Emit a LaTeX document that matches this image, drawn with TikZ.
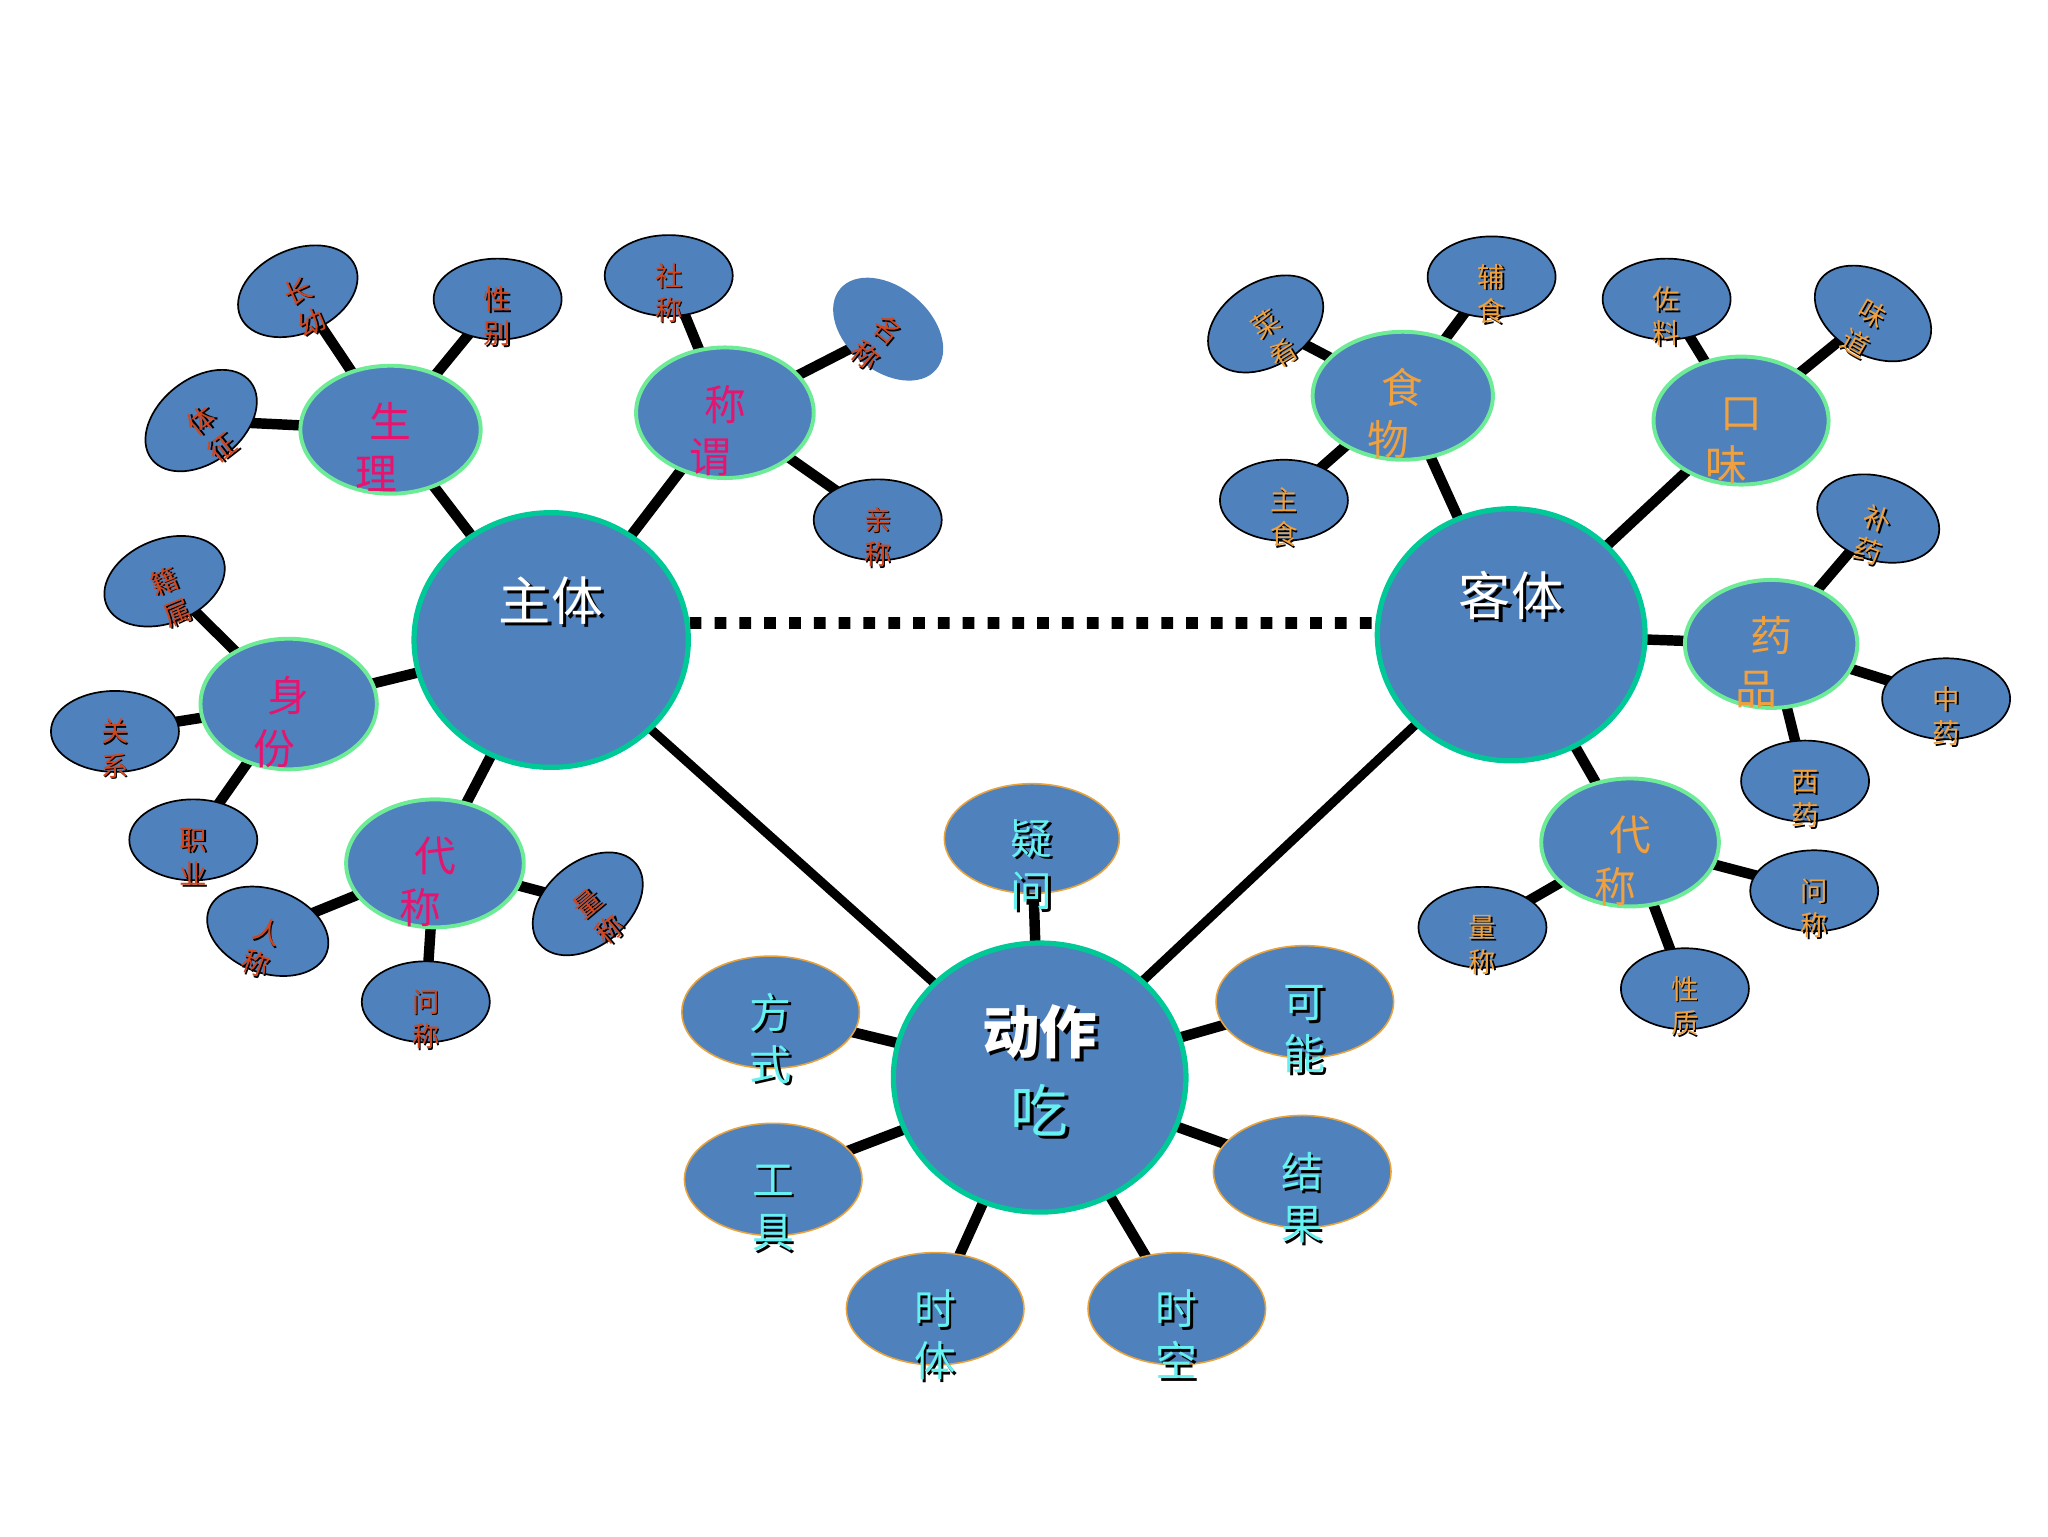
\documentclass[tikz,border=0pt]{standalone}
\usepackage{fontspec}
\setmainfont{Noto Sans CJK SC}
\usepackage{xcolor}
\usepackage{tikz}
\usetikzlibrary{shapes.geometric,backgrounds}
\definecolor{Bubble}{HTML}{4F81BD}
\definecolor{HubRim}{HTML}{00C896}
\definecolor{TopicRim}{HTML}{6EEB96}
\definecolor{ActRim}{HTML}{E8A33D}
\definecolor{TopicPink}{HTML}{E6146E}
\definecolor{LeafRed}{HTML}{D2461E}
\definecolor{LeafOrange}{HTML}{F0A03C}
\definecolor{ActCyan}{HTML}{66F0F0}

\newcommand{\shd}[1]{\rlap{\kern0.06em\raisebox{-0.06em}{\color{black}#1}}#1}
\newcommand{\lift}[2]{\smash{\makebox[0pt]{\raisebox{#1}{#2}}}}
\newcommand{\pair}[2]{\lift{-0.38em}{\shd{#1}}\lift{-1.63em}{\shd{#2}}}
\newcommand{\ttl}[2]{\lift{-0.19em}{#1}\lift{-1.44em}{\kern-0.7em#2}}

\begin{document}
\begin{tikzpicture}[x=1pt, y=-1pt,
  bub/.style={ellipse, fill=Bubble, inner sep=0pt},
  hub/.style={bub, draw=HubRim, line width=4pt, text=white, font=\fontsize{40}{48}\selectfont},
  topic/.style={bub, draw=TopicRim, line width=3pt, minimum width=136pt, minimum height=98pt, font=\fontsize{32}{40}\selectfont},
  topicL/.style={topic, text=TopicPink},
  topicR/.style={topic, text=LeafOrange},
  leaf/.style={bub, draw=black, line width=1.3pt, minimum width=98pt, minimum height=62pt, font=\fontsize{21}{26}\selectfont},
  leafL/.style={leaf, text=LeafRed},
  leafR/.style={leaf, text=LeafOrange},
  tilt/.style={rotate=#1, minimum width=96pt, minimum height=64pt},
  act/.style={bub, draw=ActRim, line width=1.2pt, minimum width=136pt, minimum height=86pt, text=ActCyan, font=\fontsize{32}{40}\selectfont},
  branch/.style={line width=8pt},
  tie/.style={line width=7pt},
  dots/.style={line width=9pt, dash pattern=on 9pt off 10pt}
]
\useasboundingbox (0,0) rectangle (1568,1176);

\node[hub, minimum width=210pt, minimum height=195pt] (zhuti) at (422,490) {\lift{0.37em}{\shd{主体}}};
\node[hub, minimum width=205pt, minimum height=193pt] (keti) at (1157,486) {\lift{0.37em}{\shd{客体}}};
\node[hub, minimum width=224pt, minimum height=206pt, font=\fontsize{44}{52}\selectfont] (dongzuo) at (796,825)
  {\lift{0.42em}{\bfseries\shd{动作}}\lift{-0.95em}{\color{ActCyan}\shd{吃}}};

\node[topicL, minimum width=138pt] (shengli) at (299,329) {\ttl{生}{理}};
\node[topicL, minimum height=100pt] (chengwei) at (555,316) {\ttl{称}{谓}};
\node[topicL, minimum width=135pt, minimum height=100pt] (shenfen) at (221,539) {\ttl{身}{份}};
\node[topicL] (daiL) at (333,661) {\ttl{代}{称}};
\node[topicR, minimum width=138pt] (shiwu) at (1074,303) {\ttl{食}{物}};
\node[topicR, minimum width=134pt] (kouwei) at (1333,322) {\ttl{口}{味}};
\node[topicR, minimum width=132pt] (yaopin) at (1356,493) {\ttl{药}{品}};
\node[topicR] (daiR) at (1248,645) {\ttl{代}{称}};

\node[leafL, tilt=24] (zhangyou) at (228,223) {\pair{长}{幼}};
\node[leafL] (xingbie) at (381,229) {\pair{性}{别}};
\node[leafL, tilt=38] (tizheng) at (154,322) {\pair{体}{征}};
\node[leafL] (shecheng) at (512,211) {\pair{社}{称}};
\node[leafL, tilt=-40, draw=none] (mingcheng) at (680,252) {\pair{名}{称}};
\node[leafL] (qincheng) at (672,398) {\pair{亲}{称}};
\node[leafL, tilt=22] (jishu) at (126,445) {\pair{籍}{属}};
\node[leafL] (guanxi) at (88,560) {\pair{关}{系}};
\node[leafL] (zhiye) at (148,643) {\pair{职}{业}};
\node[leafL, tilt=-20] (rencheng) at (205,713) {\pair{人}{称}};
\node[leafL] (wenchengL) at (326,767) {\pair{问}{称}};
\node[leafL, tilt=40] (liangchengL) at (450,692) {\pair{量}{称}};

\node[leafR, tilt=32] (caiyao) at (969,248) {\pair{菜}{肴}};
\node[leafR] (fushi) at (1142,212) {\pair{辅}{食}};
\node[leafR] (zhushi) at (983,383) {\pair{主}{食}};
\node[leafR] (zuoliao) at (1276,229) {\pair{佐}{料}};
\node[leafR, tilt=-30] (weidao) at (1434,240) {\pair{味}{道}};
\node[leafR, tilt=-18] (buyao) at (1438,397) {\pair{补}{药}};
\node[leafR] (zhongyao) at (1490,535) {\pair{中}{药}};
\node[leafR] (xiyao) at (1382,598) {\pair{西}{药}};
\node[leafR] (liangchengR) at (1135,710) {\pair{量}{称}};
\node[leafR] (wenchengR) at (1389,682) {\pair{问}{称}};
\node[leafR] (xingzhi) at (1290,757) {\pair{性}{质}};

\node[act, minimum width=134pt, minimum height=84pt] (yiwen) at (790,642) {\pair{疑}{问}};
\node[act] (fangshi) at (590,775) {\pair{方}{式}};
\node[act] (gongju) at (592,903) {\pair{工}{具}};
\node[act] (shiti) at (716,1002) {\pair{时}{体}};
\node[act] (shikong) at (901,1002) {\pair{时}{空}};
\node[act] (jieguo) at (997,897) {\pair{结}{果}};
\node[act] (keneng) at (999,767) {\pair{可}{能}};

\begin{scope}[on background layer]
\draw[dots] (zhuti.7) -- (keti.175);
\draw[tie] (zhuti.center) -- (dongzuo.center);
\draw[tie] (keti.center) -- (dongzuo.center);

\draw[branch] (zhuti.center) -- (shengli.center);
\draw[branch] (zhuti.center) -- (chengwei.center);
\draw[branch] (zhuti.center) -- (shenfen.center);
\draw[branch] (zhuti.center) -- (daiL.center);
\draw[branch] (shengli.center) -- (zhangyou.center);
\draw[branch] (shengli.center) -- (xingbie.center);
\draw[branch] (shengli.center) -- (tizheng.center);
\draw[branch] (chengwei.center) -- (shecheng.center);
\draw[branch] (chengwei.center) -- (mingcheng.center);
\draw[branch] (chengwei.center) -- (qincheng.center);
\draw[branch] (shenfen.center) -- (jishu.center);
\draw[branch] (shenfen.center) -- (guanxi.center);
\draw[branch] (shenfen.center) -- (zhiye.center);
\draw[branch] (daiL.center) -- (rencheng.center);
\draw[branch] (daiL.center) -- (wenchengL.center);
\draw[branch] (daiL.center) -- (liangchengL.center);

\draw[branch] (keti.center) -- (shiwu.center);
\draw[branch] (keti.center) -- (kouwei.center);
\draw[branch] (keti.center) -- (yaopin.center);
\draw[branch] (keti.center) -- (daiR.center);
\draw[branch] (shiwu.center) -- (caiyao.center);
\draw[branch] (shiwu.center) -- (fushi.center);
\draw[branch] (shiwu.center) -- (zhushi.center);
\draw[branch] (kouwei.center) -- (zuoliao.center);
\draw[branch] (kouwei.center) -- (weidao.center);
\draw[branch] (yaopin.center) -- (buyao.center);
\draw[branch] (yaopin.center) -- (zhongyao.center);
\draw[branch] (yaopin.center) -- (xiyao.center);
\draw[branch] (daiR.center) -- (liangchengR.center);
\draw[branch] (daiR.center) -- (wenchengR.center);
\draw[branch] (daiR.center) -- (xingzhi.center);

\draw[branch] (dongzuo.center) -- (yiwen.center);
\draw[branch] (dongzuo.center) -- (fangshi.center);
\draw[branch] (dongzuo.center) -- (gongju.center);
\draw[branch] (dongzuo.center) -- (shiti.center);
\draw[branch] (dongzuo.center) -- (shikong.center);
\draw[branch] (dongzuo.center) -- (jieguo.center);
\draw[branch] (dongzuo.center) -- (keneng.center);
\end{scope}
\end{tikzpicture}
\end{document}
